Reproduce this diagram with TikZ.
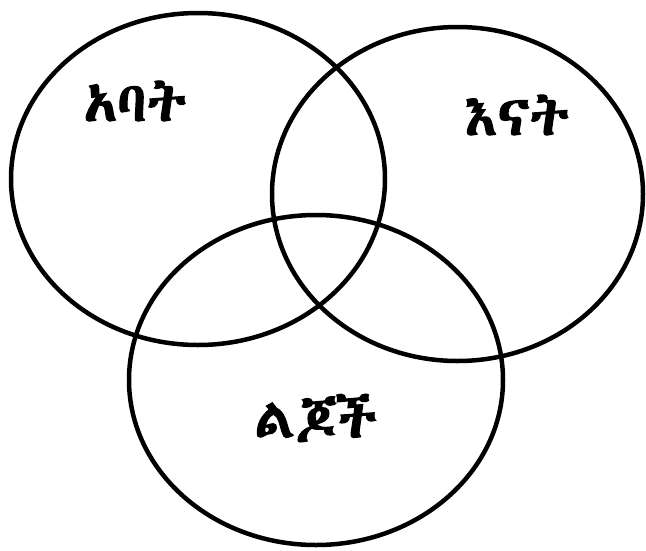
\documentclass[tikz,border=0pt]{standalone}
\usepackage{fontspec}
\IfFontExistsTF{FreeSerif.otf}{\newfontfamily\ethfont[FakeBold=3.5]{FreeSerif.otf}}{\IfFontExistsTF{Abyssinica SIL}{\newfontfamily\ethfont[FakeBold=2]{Abyssinica SIL}}{\newfontfamily\ethfont{DejaVu Sans}}}
\tikzset{
  venn/.style={line width=4.5pt, draw=black},
  lbl/.style={font=\ethfont\fontsize{55}{55}\selectfont, inner sep=0pt}
}
\begin{document}
\begin{tikzpicture}[x=1pt,y=-1pt]
\useasboundingbox (0,0) rectangle (646,550);
\fill[white] (0,0) rectangle (646,550);
\draw[venn] (198,179) ellipse [x radius=187, y radius=166];
\draw[venn] (457.5,194) ellipse [x radius=185.5, y radius=167];
\draw[venn] (316,380) ellipse [x radius=187, y radius=165];
\node[lbl] (abat) at (135,101) {አባት};
\node[lbl] (enat) at (517,115) {እናት};
\node[lbl] (lijoch) at (316,418) {ልጆች};
\end{tikzpicture}
\end{document}
